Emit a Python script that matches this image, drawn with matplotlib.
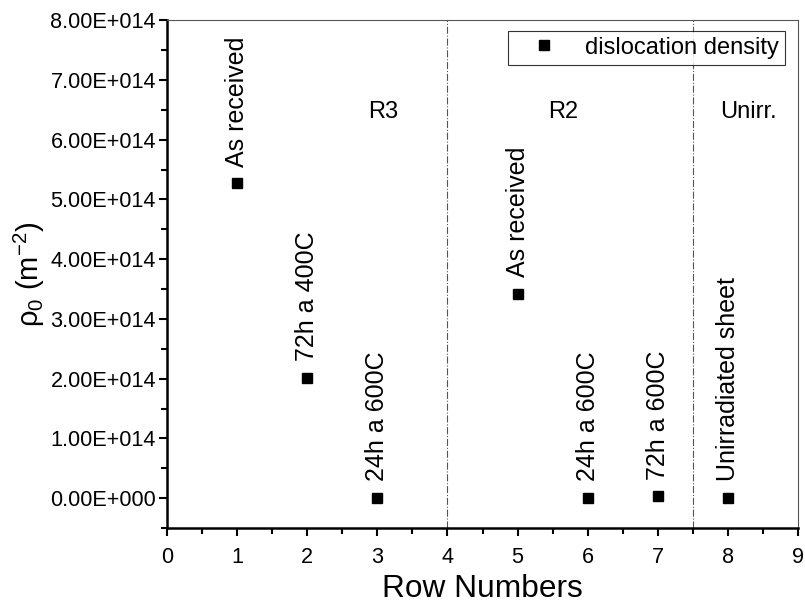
import numpy as np
import matplotlib.pyplot as plt
from matplotlib.ticker import MultipleLocator, FuncFormatter

plt.rcParams['font.family'] = ['Liberation Sans', 'DejaVu Sans']
plt.rcParams['mathtext.fontset'] = 'custom'
plt.rcParams['mathtext.rm'] = 'Liberation Sans'
plt.rcParams['mathtext.it'] = 'Liberation Sans:italic'

rows = [1, 2, 3, 5, 6, 7, 8]
density = [5.27e14, 2.01e14, 0.0, 3.42e14, 0.0, 0.03e14, 0.0]
labels = ['As received', '72h a 400C', '24h a 600C', 'As received',
          '24h a 600C', '72h a 600C', 'Unirradiated sheet']
groups = ['R3', 'R2', 'Unirr.']
group_x = [3.08, 5.65, 8.3]
group_y = 6.46e14
dividers = [4, 7.5]

fig = plt.figure(figsize=(8.05, 6.10), dpi=100)
ax = fig.add_axes([0.2075, 0.1344, 0.7838, 0.8326])

ax.plot(rows, density, 's', color='black', ms=7.2, label='dislocation density')
for x, y, t in zip(rows, density, labels):
    ax.annotate(t, (x, y), xytext=(0, 12), textcoords='offset points',
                rotation=90, ha='center', va='bottom', fontsize=18)
for x, g in zip(group_x, groups):
    ax.text(x, group_y, g, ha='center', va='center', fontsize=17)
for d in dividers:
    ax.axvline(d, color='#555555', lw=0.8, ls='-.')

ax.set_xlim(0, 9)
ax.set_ylim(-0.5e14, 8e14)
ax.xaxis.set_major_locator(MultipleLocator(1))
ax.xaxis.set_minor_locator(MultipleLocator(0.5))
ax.yaxis.set_major_locator(MultipleLocator(1e14))
ax.yaxis.set_minor_locator(MultipleLocator(0.5e14))

def sci(v, pos):
    if v == 0:
        return '0.00E+000'
    e = int(np.floor(np.log10(abs(v))))
    return '%.2fE+%03d' % (v / 10**e, e)

ax.yaxis.set_major_formatter(FuncFormatter(sci))
ax.tick_params(which='both', direction='out', top=False, right=False,
               labelsize=15.6, width=1.5)
ax.tick_params(which='major', length=6)
ax.tick_params(which='minor', length=4)
ax.tick_params(axis='x', pad=8)
ax.tick_params(axis='y', pad=2)
for s in ['left', 'bottom']:
    ax.spines[s].set_linewidth(1.8)
for s in ['top', 'right']:
    ax.spines[s].set_linewidth(0.8)
    ax.spines[s].set_color('#555555')

ax.set_xlabel('Row Numbers', fontsize=22.8, labelpad=4)
ax.set_ylabel(r'ρ$_0$ (m$^{-2}$)', fontsize=21, labelpad=2)

leg = ax.legend(loc='upper right', bbox_to_anchor=(0.979, 0.979), fontsize=17,
                frameon=True, fancybox=False, borderaxespad=0, handletextpad=0.5,
                borderpad=0.25, handlelength=2.5)
leg.get_frame().set_edgecolor('black')
leg.get_frame().set_linewidth(0.8)

fig.savefig('out.png', dpi=100)
